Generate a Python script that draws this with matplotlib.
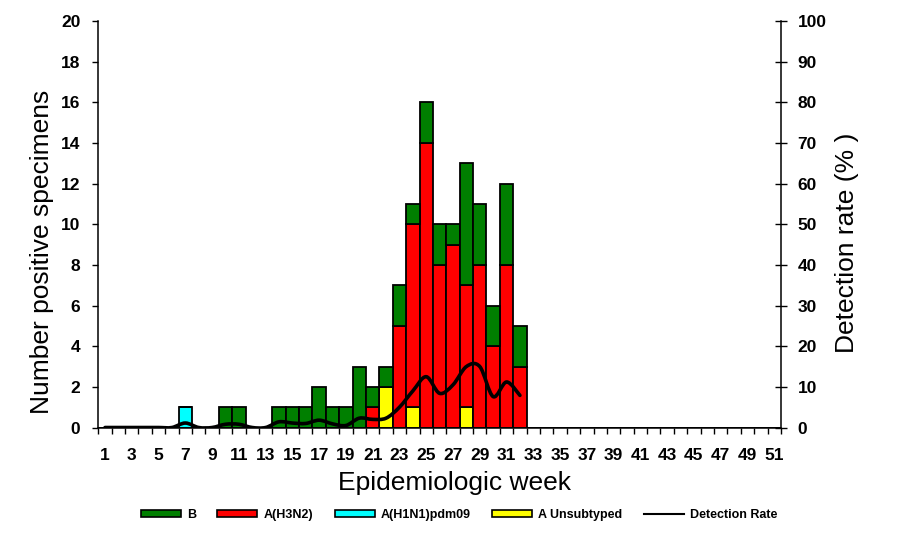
import numpy as np
import matplotlib
matplotlib.use("Agg")
import matplotlib.pyplot as plt
from matplotlib.path import Path
from matplotlib.patches import PathPatch, Patch
from matplotlib.lines import Line2D

plt.rcParams["font.family"] = ["Liberation Sans", "DejaVu Sans"]

weeks = np.arange(1, 52)

# counts per week (weeks 1..32 carry data, the rest are empty)
unsubtyped = [0, 0, 0, 0, 0, 0, 0, 0, 0, 0, 0, 0, 0, 0, 0, 0, 0, 0, 0, 0,
              0, 2, 0, 1, 0, 0, 0, 1, 0, 0, 0, 0]
h1n1 = [0, 0, 0, 0, 0, 0, 1, 0, 0, 0, 0, 0, 0, 0, 0, 0, 0, 0, 0, 0,
        0, 0, 0, 0, 0, 0, 0, 0, 0, 0, 0, 0]
h3n2 = [0, 0, 0, 0, 0, 0, 0, 0, 0, 0, 0, 0, 0, 0, 0, 0, 0, 0, 0, 0,
        1, 0, 5, 9, 14, 8, 9, 6, 8, 4, 8, 3]
flu_b = [0, 0, 0, 0, 0, 0, 0, 0, 0, 1, 1, 0, 0, 1, 1, 1, 2, 1, 1, 3,
         1, 1, 2, 1, 2, 2, 1, 6, 3, 2, 4, 2]

# detection rate (%) weeks 1..32
det_rate = [0, 0, 0, 0, 0, 0, 1.1, 0, 0, 0.8, 0.8, 0, 0, 1.4, 1.1, 1.0,
            1.8, 0.9, 0.5, 2.3, 2.0, 2.3, 5.0, 9.0, 12.5, 8.4, 10.5, 15.0,
            15.0, 7.6, 11.2, 7.9]

n = len(weeks)
def pad(v):
    return np.array(list(v) + [0] * (n - len(v)), dtype=float)

unsubtyped, h1n1, h3n2, flu_b = pad(unsubtyped), pad(h1n1), pad(h3n2), pad(flu_b)

fig = plt.figure(figsize=(8.97, 5.36), dpi=100)
ax = fig.add_axes([0.1096, 0.2024, 0.761, 0.7584])

edge = dict(edgecolor="black", linewidth=1.3, width=1.0)
bottom = np.zeros(n)
ax.bar(weeks, unsubtyped, bottom=bottom, color="#FFFF00", label="A Unsubtyped", **edge)
bottom += unsubtyped
ax.bar(weeks, h1n1, bottom=bottom, color="#00FFFF", label="A(H1N1)pdm09", **edge)
bottom += h1n1
ax.bar(weeks, h3n2, bottom=bottom, color="#FF0000", label="A(H3N2)", **edge)
bottom += h3n2
ax.bar(weeks, flu_b, bottom=bottom, color="#007F00", label="B", **edge)

ax.set_xlim(0.5, 51.5)
ax.set_ylim(0, 20)
ax.set_yticks(np.arange(0, 21, 2))
ax.set_xticks(np.arange(0.5, 52, 1))
ax.set_xticklabels([])
ax.set_xticks(np.arange(1, 52, 2), minor=True)
ax.set_xticklabels([str(w) for w in range(1, 52, 2)], minor=True)
ax.tick_params(axis="x", which="major", direction="out", length=4.5, width=1)
ax.tick_params(axis="x", which="minor", length=0, pad=15, labelsize=12.5)
ax.tick_params(axis="y", direction="out", length=4, width=1, pad=9, labelsize=12.5)
for lab in ax.get_xticklabels(minor=True) + ax.get_yticklabels():
    lab.set_fontweight("bold")
for s in ["top", "right"]:
    ax.spines[s].set_visible(False)
for s in ["left", "bottom"]:
    ax.spines[s].set_linewidth(1.1)

ax2 = ax.twinx()
ax2.set_ylim(0, 100)
ax2.set_yticks(np.arange(0, 101, 10))
ax2.tick_params(axis="y", direction="inout", length=8, width=1, pad=8, labelsize=12.5)
for lab in ax2.get_yticklabels():
    lab.set_fontweight("bold")
ax2.spines["top"].set_visible(False)
ax2.spines["left"].set_visible(False)
ax2.spines["bottom"].set_visible(False)
ax2.spines["right"].set_linewidth(1.1)

# smoothed detection-rate line as cubic Bezier segments (Catmull-Rom control points)
px = np.arange(1, len(det_rate) + 1, dtype=float)
py = np.array(det_rate)
verts = [(px[0], py[0])]
codes = [Path.MOVETO]
for i in range(len(px) - 1):
    i0, i3 = max(i - 1, 0), min(i + 2, len(px) - 1)
    c1 = (px[i] + (px[i + 1] - px[i0]) / 6, py[i] + (py[i + 1] - py[i0]) / 6)
    c2 = (px[i + 1] - (px[i3] - px[i]) / 6, py[i + 1] - (py[i3] - py[i]) / 6)
    verts += [c1, c2, (px[i + 1], py[i + 1])]
    codes += [Path.CURVE4] * 3
ax2.add_patch(PathPatch(Path(verts, codes), fill=False, edgecolor="black",
                        linewidth=2.6, capstyle="round", joinstyle="round"))

fig.text(42.5 / 897, 1 - 252 / 536, "Number positive specimens", rotation=90,
         ha="center", va="center", fontsize=19)
fig.text(847 / 897, 1 - 243 / 536, "Detection rate (% )", rotation=90,
         ha="center", va="center", fontsize=19)
fig.text(454 / 897, 1 - 490 / 536, "Epidemiologic week", ha="center",
         va="baseline", fontsize=19)

handles = [Patch(facecolor="#007F00", edgecolor="black", linewidth=1.2),
           Patch(facecolor="#FF0000", edgecolor="black", linewidth=1.2),
           Patch(facecolor="#00FFFF", edgecolor="black", linewidth=1.2),
           Patch(facecolor="#FFFF00", edgecolor="black", linewidth=1.2),
           Line2D([], [], color="black", linewidth=1.5)]
labels = ["B", "A(H3N2)", "A(H1N1)pdm09", "A Unsubtyped", "Detection Rate"]
fig.legend(handles, labels, loc="center", bbox_to_anchor=(459 / 897, 1 - 515 / 536),
           ncol=5, frameon=False, handlelength=3.2, handleheight=0.4,
           handletextpad=0.5, columnspacing=1.7,
           prop={"size": 9, "weight": "bold"})

fig.savefig("out.png", dpi=100)
